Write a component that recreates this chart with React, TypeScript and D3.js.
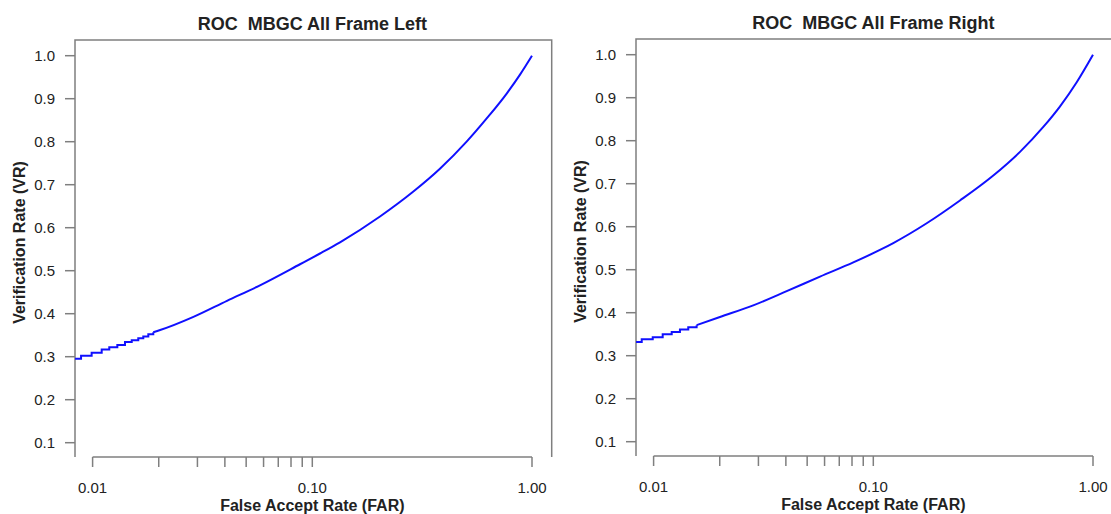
import React from "react";
import * as d3 from "d3";

// ---- data ----
const titles = ["ROC  MBGC All Frame Left", "ROC  MBGC All Frame Right"];
const xTickLabels = ["0.01", "0.10", "1.00"];
const xMajorTicks = [0.01, 0.1, 1];
const xMinorTicks = [0.02, 0.03, 0.04, 0.05, 0.06, 0.07, 0.08, 0.09];
const yTicks = [0.1, 0.2, 0.3, 0.4, 0.5, 0.6, 0.7, 0.8, 0.9, 1.0];
const yTickLabels = ["0.1", "0.2", "0.3", "0.4", "0.5", "0.6", "0.7", "0.8", "0.9", "1.0"];

// Left panel: stair-stepped low-FAR part, then smooth part
const leftStepFar = [0.00832, 0.00886, 0.0099, 0.011, 0.01191, 0.01296, 0.01404, 0.01507, 0.01614, 0.01701, 0.01793, 0.01889];
const leftStepVr = [0.295, 0.302, 0.309, 0.317, 0.322, 0.327, 0.334, 0.338, 0.343, 0.347, 0.352, 0.357];
const leftFar = [0.01889, 0.0203, 0.0286, 0.0409, 0.0578, 0.0879, 0.1084, 0.1337, 0.2033, 0.2884, 0.381, 0.504, 0.622, 0.767, 0.882, 1.0];
const leftVr = [0.357, 0.362, 0.392, 0.43, 0.466, 0.515, 0.54, 0.566, 0.626, 0.684, 0.737, 0.8, 0.854, 0.912, 0.956, 1.0];

// Right panel
const rightStepFar = [0.00832, 0.00883, 0.00991, 0.011, 0.01209, 0.01318, 0.01438, 0.0157];
const rightStepVr = [0.332, 0.338, 0.343, 0.35, 0.355, 0.361, 0.366, 0.371];
const rightFar = [0.0157, 0.02004, 0.02842, 0.04035, 0.0572, 0.0811, 0.1072, 0.1233, 0.175, 0.248, 0.3517, 0.4653, 0.594, 0.708, 0.843, 1.0];
const rightVr = [0.371, 0.39, 0.417, 0.45, 0.484, 0.517, 0.546, 0.562, 0.608, 0.661, 0.719, 0.774, 0.832, 0.88, 0.936, 1.0];

const W = 1111;
const H = 514;
const FONT = "'Liberation Sans', Arial, Helvetica, sans-serif";
const AXIS = "#7f7f7f";
const TEXT = "#222";
const BLUE = "#1010ff";

type PanelProps = {
  dx: number;
  dy: number;
  title: string;
  stepFar: number[];
  stepVr: number[];
  far: number[];
  vr: number[];
};

function Panel({ dx, dy, title, stepFar, stepVr, far, vr }: PanelProps) {
  const x = d3.scaleLog().domain([0.01, 1]).range([92.6 + dx, 532 + dx]);
  const y = d3.scaleLinear().domain([0.1, 1]).range([442.7 + dy, 55.7 + dy]);
  const left = 75 + dx;
  const right = 551.7 + dx;
  const top = 40 + dy;
  const bottom = 457 + dy;
  const tickLen = 10;

  const stepPts: [number, number][] = stepFar.map((f, i) => [x(f), y(stepVr[i])]);
  const smoothPts: [number, number][] = far.map((f, i) => [x(f), y(vr[i])]);
  const stepLine = d3.line().curve(d3.curveStepAfter)(stepPts) || "";
  const smoothLine = d3.line().curve(d3.curveMonotoneX)(smoothPts) || "";
  const clipId = `clip${dx}`;
  const cx = (left + right) / 2;
  const cy = (top + bottom) / 2;

  return (
    <g>
      <defs>
        <clipPath id={clipId}>
          <rect x={left} y={top} width={right - left} height={bottom - top} />
        </clipPath>
      </defs>
      <text
        x={cx - 1}
        y={29.5 + dy}
        textAnchor="middle"
        fontFamily={FONT}
        fontWeight="bold"
        fontSize={18}
        fill={TEXT}
        style={{ whiteSpace: "pre" }}
      >
        {title}
      </text>
      {/* box: top, left, right */}
      <path
        d={`M${left},${bottom}V${top}H${right}V${bottom}`}
        fill="none"
        stroke={AXIS}
        strokeWidth={1.5}
      />
      {/* y axis ticks */}
      {yTicks.map((t, i) => (
        <g key={"y" + i}>
          <line x1={left - tickLen} x2={left} y1={y(t)} y2={y(t)} stroke={AXIS} strokeWidth={1.5} />
          <text
            x={left - 20}
            y={y(t) + 5.3}
            textAnchor="end"
            fontFamily={FONT}
            fontSize={15}
            fill={TEXT}
          >
            {yTickLabels[i]}
          </text>
        </g>
      ))}
      {/* x axis */}
      <line x1={x(0.01)} x2={x(1)} y1={bottom} y2={bottom} stroke={AXIS} strokeWidth={1.5} />
      {xMajorTicks.concat(xMinorTicks).map((t, i) => (
        <line key={"xt" + i} x1={x(t)} x2={x(t)} y1={bottom} y2={bottom + tickLen} stroke={AXIS} strokeWidth={1.5} />
      ))}
      {xMajorTicks.map((t, i) => (
        <text key={"xl" + i} x={x(t)} y={bottom + 36.3} textAnchor="middle" fontFamily={FONT} fontSize={15} fill={TEXT}>
          {xTickLabels[i]}
        </text>
      ))}
      <text x={cx - 1} y={511 + dy} textAnchor="middle" fontFamily={FONT} fontWeight="bold" fontSize={16} fill={TEXT}>
        False Accept Rate (FAR)
      </text>
      <text
        transform={`translate(${left - 50},${cy - 6}) rotate(-90)`}
        textAnchor="middle"
        fontFamily={FONT}
        fontWeight="bold"
        fontSize={16}
        fill={TEXT}
      >
        Verification Rate (VR)
      </text>
      <g clipPath={`url(#${clipId})`}>
        <path d={stepLine} fill="none" stroke={BLUE} strokeWidth={2} />
        <path d={smoothLine} fill="none" stroke={BLUE} strokeWidth={2} />
      </g>
    </g>
  );
}

export default function App() {
  return (
    <svg
      width={W}
      height={H}
      style={{ position: "absolute", left: 0, top: 0, background: "#fff" }}
    >
      <rect width={W} height={H} fill="#fff" />
      <Panel dx={0} dy={0} title={titles[0]} stepFar={leftStepFar} stepVr={leftStepVr} far={leftFar} vr={leftVr} />
      <Panel dx={561} dy={-1} title={titles[1]} stepFar={rightStepFar} stepVr={rightStepVr} far={rightFar} vr={rightVr} />
    </svg>
  );
}
